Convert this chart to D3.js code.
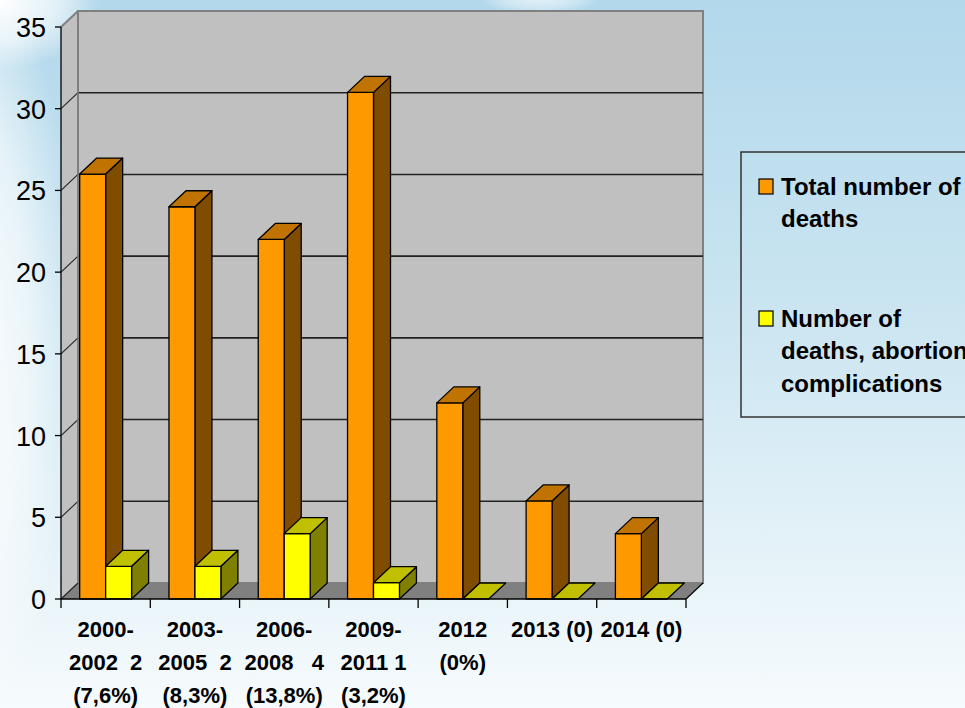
<!DOCTYPE html>
<html>
<head>
<meta charset="utf-8">
<script src="https://cdn.jsdelivr.net/npm/d3@7"></script>
<style>
  html, body { margin: 0; padding: 0; overflow: hidden; }
  svg text { font-family: "Liberation Sans", Arial, sans-serif; fill: #000; white-space: pre; }
</style>
</head>
<body>
<svg id="chart" width="965" height="708"></svg>
<script>
// data
const categories = ["2000-2002", "2003-2005", "2006-2008", "2009-2011", "2012", "2013", "2014"];
const categoryLabels = [
    ["2000-", "2002  2", "(7,6%)"],
    ["2003-", "2005  2", "(8,3%)"],
    ["2006-", "2008   4", "(13,8%)"],
    ["2009-", "2011 1", "(3,2%)"],
    ["2012", "(0%)"],
    ["2013 (0)"],
    ["2014 (0)"]
];
const totalDeaths = [26, 24, 22, 31, 12, 6, 4];
const abortionDeaths = [2, 2, 4, 1, 0, 0, 0];
const seriesNames = ["Total number of deaths", "Number of deaths, abortion complications"];
const legendLines = [["Total number of", "deaths"], ["Number of", "deaths, abortion", "complications"]];
const yTicks = [0, 5, 10, 15, 20, 25, 30, 35];

// colours: front, top, side
const colors = [
    {front: "#ff9900", top: "#c07300", side: "#7f4c00"},
    {front: "#ffff00", top: "#c0c000", side: "#808000"}
];

const svg = d3.select("#chart");

// background sky
let defs = svg.append("defs");
let sky = defs.append("linearGradient").attr("id", "sky").attr("x1", 0).attr("y1", 0).attr("x2", 0).attr("y2", 1);
sky.append("stop").attr("offset", "0%").attr("stop-color", "#b2d8eb");
sky.append("stop").attr("offset", "45%").attr("stop-color", "#cbe5f1");
sky.append("stop").attr("offset", "100%").attr("stop-color", "#f6fbfd");
let cloud = defs.append("radialGradient").attr("id", "cloud");
cloud.append("stop").attr("offset", "0%").attr("stop-color", "#ffffff").attr("stop-opacity", 1);
cloud.append("stop").attr("offset", "60%").attr("stop-color", "#ffffff").attr("stop-opacity", 0.6);
cloud.append("stop").attr("offset", "100%").attr("stop-color", "#ffffff").attr("stop-opacity", 0);

svg.append("rect").attr("width", 965).attr("height", 708).attr("fill", "url(#sky)");
svg.append("ellipse").attr("cx", -40).attr("cy", 340).attr("rx", 115).attr("ry", 400).attr("fill", "url(#cloud)");
svg.append("ellipse").attr("cx", 0).attr("cy", 0).attr("rx", 100).attr("ry", 70).attr("fill", "url(#cloud)");
svg.append("ellipse").attr("cx", 540).attr("cy", 0).attr("rx", 60).attr("ry", 14).attr("fill", "url(#cloud)").attr("opacity", 0.6);

// chart geometry
let plotLeft = 61, plotRight = 686, plotBottom = 599, plotTop = 27;
let dx = 17, dy = -16;

let x = d3.scaleBand().domain(categories).range([plotLeft, plotRight]).paddingInner(0).paddingOuter(0);
let inner = d3.scaleBand().domain([0, 1]).range([0, x.bandwidth()]).paddingInner(0).paddingOuter(0.72);
let y = d3.scaleLinear().domain([0, 35]).range([plotBottom, plotTop]);

let g = svg.append("g");

// side wall (left)
g.append("polygon")
    .attr("points", [[plotLeft, y(0)], [plotLeft + dx, y(0) + dy], [plotLeft + dx, y(35) + dy], [plotLeft, y(35)]].join(" "))
    .attr("fill", "#c0c0c0");
// back wall
g.append("rect")
    .attr("x", plotLeft + dx).attr("y", y(35) + dy)
    .attr("width", plotRight - plotLeft).attr("height", y(0) - y(35))
    .attr("fill", "#c0c0c0").attr("stroke", "#808080").attr("stroke-width", 2);
// floor
g.append("polygon")
    .attr("points", [[plotLeft, y(0)], [plotLeft + dx, y(0) + dy], [plotRight + dx, y(0) + dy], [plotRight, y(0)]].join(" "))
    .attr("fill", "#808080");
g.append("line")
    .attr("x1", plotRight).attr("y1", y(0)).attr("x2", plotRight + dx).attr("y2", y(0) + dy)
    .attr("stroke", "#000").attr("stroke-width", 1.2);

// gridlines on back wall and side wall
yTicks.filter(d => d > 0 && d < 35).forEach(function(v) {
    g.append("line")
        .attr("x1", plotLeft + dx).attr("x2", plotRight + dx)
        .attr("y1", y(v) + dy).attr("y2", y(v) + dy)
        .attr("stroke", "#222").attr("stroke-width", 1.6);
});
yTicks.forEach(function(v) {
    g.append("line")
        .attr("x1", plotLeft).attr("y1", y(v))
        .attr("x2", plotLeft + dx).attr("y2", y(v) + dy)
        .attr("stroke", v == 35 ? "#808080" : "#222").attr("stroke-width", v == 35 ? 2 : 1.1);
});
g.append("line")
    .attr("x1", plotLeft + dx).attr("x2", plotLeft + dx)
    .attr("y1", y(35) + dy).attr("y2", y(0) + dy)
    .attr("stroke", "#808080").attr("stroke-width", 1.5);

// bars
let seriesData = [totalDeaths, abortionDeaths];
categories.forEach(function(cat, i) {
    [0, 1].forEach(function(s) {
        let v = seriesData[s][i];
        let x0 = x(cat) + inner(s);
        let x1 = x0 + inner.bandwidth();
        let yv = y(v), y0 = y(0);
        let c = colors[s];
        let bar = g.append("g").attr("stroke", "#000").attr("stroke-width", 1.3).attr("stroke-linejoin", "round");
        if (v > 0) {
            bar.append("polygon")
                .attr("points", [[x1, yv], [x1 + dx, yv + dy], [x1 + dx, y0 + dy], [x1, y0]].join(" "))
                .attr("fill", c.side);
            bar.append("rect")
                .attr("x", x0).attr("y", yv).attr("width", x1 - x0).attr("height", y0 - yv)
                .attr("fill", c.front);
        }
        bar.append("polygon")
            .attr("points", [[x0, yv], [x0 + dx, yv + dy], [x1 + dx, yv + dy], [x1, yv]].join(" "))
            .attr("fill", c.top);
    });
});

// y axis
g.append("line").attr("x1", plotLeft).attr("x2", plotLeft).attr("y1", y(35)).attr("y2", y(0))
    .attr("stroke", "#000").attr("stroke-width", 1.3);
yTicks.forEach(function(v) {
    g.append("line").attr("x1", plotLeft - 6).attr("x2", plotLeft).attr("y1", y(v)).attr("y2", y(v))
        .attr("stroke", "#000").attr("stroke-width", 1.3);
    g.append("text")
        .attr("x", 46).attr("y", y(v) + 10)
        .attr("text-anchor", "end")
        .style("font-size", "27px")
        .text(v);
});

// x axis
g.append("line").attr("x1", plotLeft).attr("x2", plotRight).attr("y1", y(0)).attr("y2", y(0))
    .attr("stroke", "#000").attr("stroke-width", 1.3);
d3.range(categories.length + 1).forEach(function(k) {
    let xt = plotLeft + k * x.step();
    g.append("line").attr("x1", xt).attr("x2", xt).attr("y1", y(0)).attr("y2", y(0) + 9)
        .attr("stroke", "#000").attr("stroke-width", 1.3);
});
categories.forEach(function(cat, i) {
    let t = g.append("text")
        .attr("x", x(cat) + x.bandwidth() / 2)
        .attr("y", 637)
        .attr("text-anchor", "middle")
        .style("font-size", "22px").style("font-weight", "bold");
    categoryLabels[i].forEach(function(line, j) {
        t.append("tspan")
            .attr("x", x(cat) + x.bandwidth() / 2)
            .attr("dy", j == 0 ? 0 : 33)
            .text(line);
    });
});

// legend
let legend = svg.append("g");
legend.append("rect")
    .attr("x", 741).attr("y", 152).attr("width", 260).attr("height", 265)
    .attr("fill", "none").attr("stroke", "#333").attr("stroke-width", 1.5);
let legendY = [195, 327];
seriesNames.forEach(function(name, s) {
    legend.append("rect")
        .attr("x", 759).attr("y", legendY[s] - 16).attr("width", 14).attr("height", 15)
        .attr("fill", colors[s].front).attr("stroke", "#000").attr("stroke-width", 1.2);
    let t = legend.append("text")
        .attr("x", 781).attr("y", legendY[s])
        .style("font-size", "24px").style("font-weight", "bold");
    legendLines[s].forEach(function(line, j) {
        t.append("tspan").attr("x", 781).attr("dy", j == 0 ? 0 : 32.3).text(line);
    });
});
</script>
</body>
</html>
